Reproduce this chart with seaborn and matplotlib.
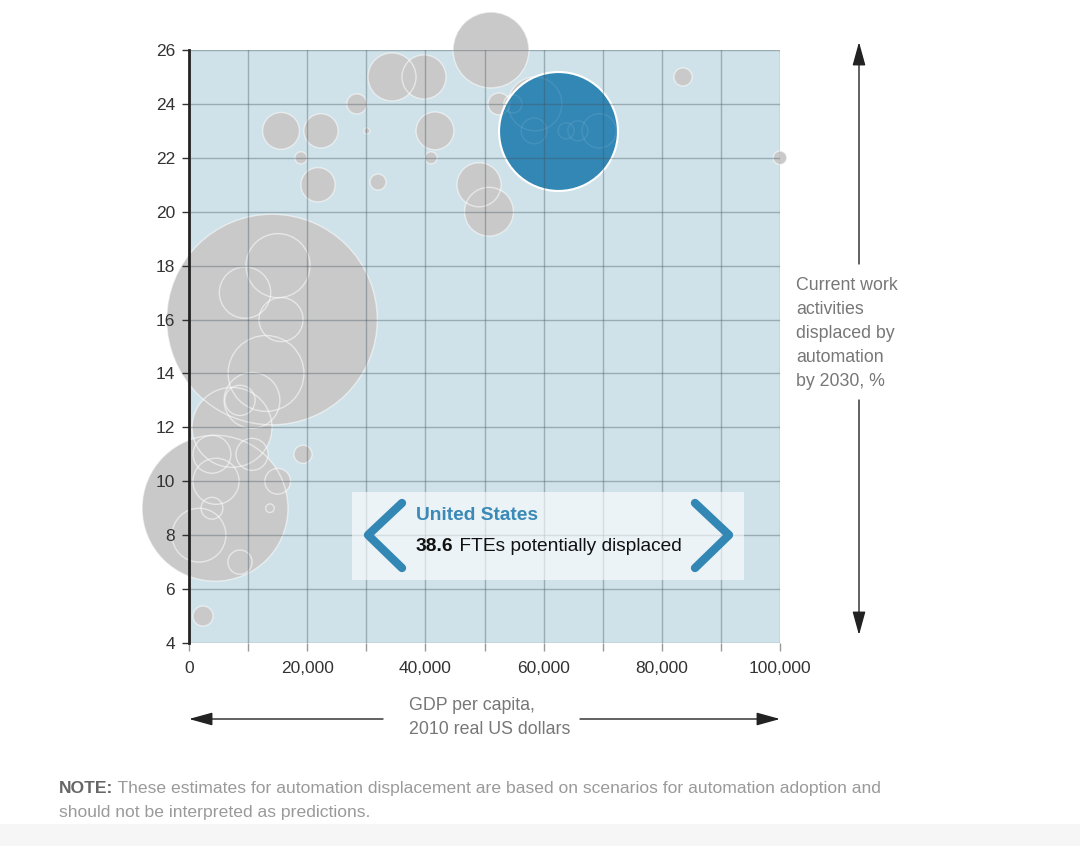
import matplotlib.pyplot as plt
import matplotlib.ticker as mticker
from matplotlib.lines import Line2D
from matplotlib.patches import Rectangle
import seaborn as sns
import pandas as pd

# ===================== DATOS =====================

# PIB per cápita (USD 2010), % de actividades desplazadas, FTE desplazados (millones)
gdp = [51100, 34350, 39760, 28400, 15570, 22330, 30100, 18950, 21830, 31980,
       41620, 40950, 49070, 50760, 52450, 54800, 58540, 58380, 63800, 65800,
       69400, 83590, 100000, 14040, 15060, 9480, 15570, 13030, 10660, 8630,
       7280, 3890, 10660, 4570, 15000, 3890, 13700, 1690, 8630, 4400,
       19290, 2370, 62440]
share = [26, 25, 25, 24, 23, 23, 23, 22, 21, 21.1,
         23, 22, 21, 20, 24, 24, 24, 23, 23, 23,
         23, 25, 22, 16, 18, 17, 16, 14, 13, 13,
         12, 11, 11, 10, 10, 9, 9, 8, 7, 9,
         11, 5, 23]
fte = [15.7, 6.3, 5.3, 1.1, 3.7, 3.2, 0.1, 0.4, 3.2, 0.7,
       3.9, 0.4, 5.3, 6.5, 1.3, 0.9, 7.9, 1.8, 0.7, 1.1,
       3.2, 0.9, 0.5, 121.0, 11.2, 7.2, 5.3, 15.7, 8.5, 2.5,
       17.4, 3.9, 2.8, 5.8, 1.8, 1.3, 0.2, 7.9, 1.6, 58.1,
       0.9, 1.1, 38.6]
country = [""] * 42 + ["United States"]

highlight = "United States"
highlight_fte = 38.6

x_ticks = [0, 20000, 40000, 60000, 80000, 100000]
y_ticks = [4, 6, 8, 10, 12, 14, 16, 18, 20, 22, 24, 26]

df = pd.DataFrame({"gdp": gdp, "share": share, "fte": fte, "country": country})
df = df.sort_values("fte", ascending=False)
others = df[df["country"] != highlight]
us = df[df["country"] == highlight]

# ===================== ESTILO =====================

W, H = 1080, 846
BG = "#CFE2E9"
GRAY = "#C9C9C9"
BLUE = "#3387B5"

sns.set_style("white")
plt.rcParams["font.family"] = ["Liberation Sans", "DejaVu Sans"]


def fx(px):
    return px / W


def fy(py):
    return 1 - py / H


fig = plt.figure(figsize=(W / 100, H / 100), dpi=100)
ax = fig.add_axes([fx(189), fy(643), (780 - 189) / W, (643 - 50) / H])
ax.set_facecolor(BG)

# área del marcador proporcional a los FTE
fte_max = max(fte)
k = 190.0
size_kw = dict(size="fte", sizes=(0, k * fte_max), size_norm=(0, fte_max), legend=False)

# rellenos grises
sns.scatterplot(data=others, x="gdp", y="share", color=GRAY, linewidth=0,
                ax=ax, zorder=1, **size_kw)
# contornos blancos
sns.scatterplot(data=others, x="gdp", y="share", color=GRAY, ax=ax, zorder=1.2,
                **size_kw)
ax.collections[-1].set_facecolor("none")
ax.collections[-1].set_edgecolor((1, 1, 1, 0.5))
ax.collections[-1].set_linewidth(1.0)

# Estados Unidos
sns.scatterplot(data=us, x="gdp", y="share", color=BLUE, ax=ax, zorder=1.5,
                **size_kw)
ax.collections[-1].set_edgecolor("white")
ax.collections[-1].set_linewidth(1.5)

# contornos tenues por encima del círculo azul
sns.scatterplot(data=others, x="gdp", y="share", color=GRAY, ax=ax, zorder=1.6,
                **size_kw)
ax.collections[-1].set_facecolor("none")
ax.collections[-1].set_edgecolor((1, 1, 1, 0.09))
ax.collections[-1].set_linewidth(1.0)

for c in ax.collections:
    c.set_clip_on(False)

# ===================== EJES =====================

ax.set_xlim(0, 100000)
ax.set_ylim(4, 26)
ax.set_xlabel("")
ax.set_ylabel("")
ax.xaxis.set_major_locator(mticker.FixedLocator(x_ticks))
ax.xaxis.set_minor_locator(mticker.MultipleLocator(10000))
ax.xaxis.set_major_formatter(mticker.FuncFormatter(lambda v, p: f"{int(v):,}"))
ax.set_yticks(y_ticks)

ax.set_axisbelow(False)
ax.grid(True, which="both", axis="x", color="#44545C", alpha=0.38, lw=1)
ax.grid(True, which="major", axis="y", color="#44545C", alpha=0.38, lw=1)

for side in ["top", "right", "bottom"]:
    ax.spines[side].set_visible(False)
ax.spines["left"].set_color("#222222")
ax.spines["left"].set_linewidth(2)
ax.spines["left"].set_zorder(3)

ax.tick_params(axis="y", which="major", left=True, length=5, width=1,
               color="#333333", labelsize=12.5, labelcolor="#333333", pad=5)
ax.tick_params(axis="x", which="both", bottom=True, length=6, width=1,
               color="#999999", labelsize=12.5, labelcolor="#333333", pad=7)

# ===================== ANOTACIONES =====================

arrow_kw = dict(arrowstyle="-|>,head_length=1.45,head_width=0.4", color="#222222",
                lw=1, mutation_scale=10, shrinkA=0, shrinkB=0)
for start, end in [((859, 264), (859, 42)), ((859, 400), (859, 635)),
                   ((383, 719), (189, 719)), ((580, 719), (780, 719))]:
    ax.annotate("", xy=(fx(end[0]), fy(end[1])), xytext=(fx(start[0]), fy(start[1])),
                xycoords="figure fraction", textcoords="figure fraction",
                arrowprops=arrow_kw)

y_label_lines = ["Current work", "activities", "displaced by", "automation", "by 2030, %"]
for i, line in enumerate(y_label_lines):
    fig.text(fx(796), fy(285 + 24 * i), line, ha="left", va="center",
             fontsize=12.8, color="#777777")

x_label_lines = ["GDP per capita,", "2010 real US dollars"]
for i, line in enumerate(x_label_lines):
    fig.text(fx(409), fy(705 + 24 * i), line, ha="left", va="center",
             fontsize=12.8, color="#777777")

# Caja de información
fig.patches.append(Rectangle((fx(352), fy(580)), (744 - 352) / W, (580 - 492) / H,
                             transform=fig.transFigure, facecolor="white",
                             alpha=0.6, edgecolor="none", zorder=1))
for xs in [(402, 368, 402), (695, 729, 695)]:
    fig.add_artist(Line2D([fx(v) for v in xs], [fy(503), fy(535), fy(568)],
                          lw=6, color=BLUE, solid_capstyle="round",
                          solid_joinstyle="round", zorder=2))

fig.text(fx(416), fy(516), highlight, fontsize=13.8, fontweight="bold",
         color="#3A89B7", va="center")
renderer = fig.canvas.get_renderer()
t = fig.text(fx(416), fy(546), f"{highlight_fte}", fontsize=13.8, fontweight="bold",
             color="#111111", va="center")
bb = t.get_window_extent(renderer=renderer)
fig.text(bb.x1 / W, fy(546), " FTEs potentially displaced", fontsize=13.8,
         color="#111111", va="center")

# Nota
t = fig.text(fx(59), fy(788), "NOTE:", fontsize=12.6, fontweight="bold",
             color="#666666", va="center")
bb = t.get_window_extent(renderer=renderer)
fig.text(bb.x1 / W, fy(788),
         " These estimates for automation displacement are based on scenarios for automation adoption and",
         fontsize=12.6, color="#9A9A9A", va="center")
fig.text(fx(59), fy(812), "should not be interpreted as predictions.",
         fontsize=12.6, color="#9A9A9A", va="center")

fig.patches.append(Rectangle((0, 0), 1, 22 / H, transform=fig.transFigure,
                             facecolor="#F6F6F6", edgecolor="none", zorder=0))

fig.savefig("out.png", dpi=100)
